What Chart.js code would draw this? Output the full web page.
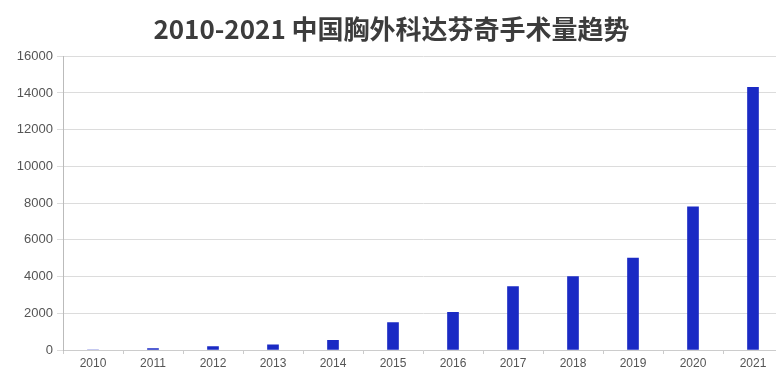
<!DOCTYPE html>
<html>
<head>
<meta charset="utf-8">
<script src="https://cdn.jsdelivr.net/npm/chart.js@4"></script>
<style>
  html, body { margin: 0; padding: 0; background: #fff; overflow: hidden; }
  #wrap { width: 784px; height: 374px; }
</style>
</head>
<body>
<div id="wrap"><canvas id="chart"></canvas></div>
<script>
// Data
const years = ["2010","2011","2012","2013","2014","2015","2016","2017","2018","2019","2020","2021"];
const surgeries = [0, 80, 180, 280, 520, 1500, 2050, 3450, 4000, 5000, 7800, 14300];
const titleText = "2010-2021 中国胸外科达芬奇手术量趋势";

Chart.defaults.font.family = "'Liberation Sans', Arial, sans-serif";
Chart.defaults.color = "#555";

new Chart(document.getElementById("chart"), {
  type: "bar",
  data: {
    labels: years,
    datasets: [{
      data: surgeries,
      backgroundColor: "#1a2ac4",
      barThickness: 11
    }]
  },
  options: {
    responsive: true,
    maintainAspectRatio: false,
    animation: false,
    layout: { padding: { left: 0, right: 1, top: 0, bottom: 0 } },
    plugins: {
      legend: { display: false },
      tooltip: { enabled: false },
      title: {
        display: true,
        text: titleText,
        color: "#3c3c3c",
        font: { family: "'Noto Sans CJK SC', sans-serif", size: 26, weight: "bold" },
        padding: { top: 14, bottom: 11 }
      }
    },
    scales: {
      x: {
        offset: true,
        grid: { display: true, drawOnChartArea: false, offset: true, tickLength: 4, color: "#ccc" },
        border: { color: "#ccc" },
        ticks: { font: { size: 12 }, color: "#555", padding: 2 },
        afterFit: s => { s.height = 24; }
      },
      y: {
        min: 0,
        max: 16000,
        grid: { color: "#dcdcdc", tickLength: 6 },
        border: { color: "#bbb" },
        ticks: {
          stepSize: 2000,
          font: { size: 13 },
          color: "#555",
          padding: 4,
          callback: v => String(v)
        },
        afterFit: s => { s.width = 63; }
      }
    }
  }
});
</script>
</body>
</html>
